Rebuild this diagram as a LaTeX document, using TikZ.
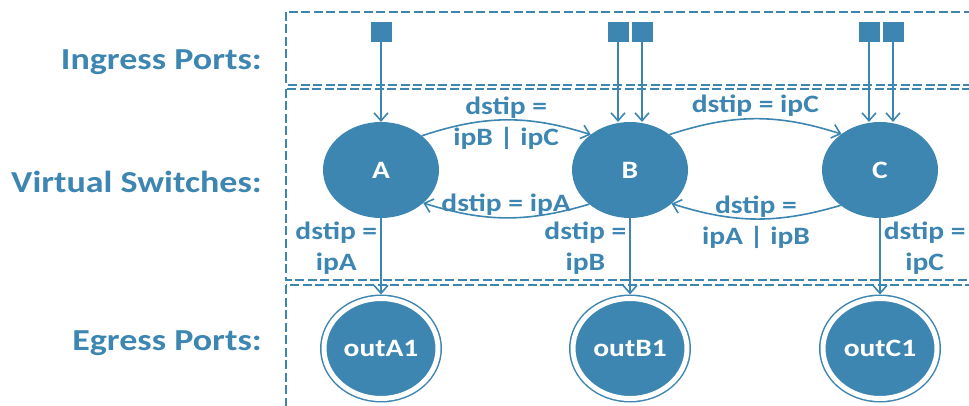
\documentclass[tikz,border=0pt]{standalone}
\usepackage{fontspec}
\setmainfont{Carlito}[FakeStretch=1.18]
\usetikzlibrary{shapes.geometric,arrows.meta}
\definecolor{netblue}{RGB}{62,134,178}
\tikzset{
  rowlabel/.style={anchor=base east, inner sep=0pt, text=netblue,
    font=\fontsize{30.5}{32}\selectfont\bfseries},
  rulelabel/.style={text=netblue, align=center, inner sep=2pt,
    font=\fontsize{25}{31}\selectfont\bfseries},
  zone/.style={draw=netblue, line width=1.3pt, dash pattern=on 9pt off 3.5pt},
  wire/.style={draw=netblue, line width=1.6pt,
    -{Straight Barb[length=8pt,width=14pt]}},
  port/.style={rectangle, fill=netblue, minimum width=21pt, minimum height=20pt,
    inner sep=0pt, outer sep=0pt},
  switch/.style={ellipse, fill=netblue, minimum width=116pt, minimum height=96pt,
    inner sep=0pt, outer sep=0pt, text=white,
    font=\fontsize{25}{30}\selectfont\bfseries},
  egress/.style={ellipse, fill=netblue, draw=netblue, line width=1.5pt,
    double=white, double distance=5pt, minimum width=114pt, minimum height=100pt,
    inner sep=0pt, outer sep=4pt, text=white,
    font=\fontsize{25}{30}\selectfont\bfseries}
}
\begin{document}
\begin{tikzpicture}[x=1pt,y=1pt]
  \useasboundingbox (0,0) rectangle (969,-406);
  \clip (0,0) rectangle (969,-406);

  % dashed zones, running off the right and bottom edges
  \draw[zone] (286,-12) rectangle (1000,-85);
  \draw[zone] (286,-89) rectangle (1000,-280);
  \draw[zone] (286,-285) rectangle (1000,-440);

  % row captions
  \node[rowlabel] (lin) at (262,-70) {Ingress Ports:};
  \node[rowlabel] (lvs) at (262,-193) {Virtual Switches:};
  \node[rowlabel] (leg) at (262,-350) {Egress Ports:};

  % virtual switches
  \node[switch] (A) at (381,-170) {A};
  \node[switch] (B) at (630,-170) {B};
  \node[switch] (C) at (880,-170) {C};

  % egress ports
  \node[egress] (oA) at (381,-348.5) {outA1};
  \node[egress] (oB) at (630,-348.5) {outB1};
  \node[egress] (oC) at (880,-348.5) {outC1};

  % ingress ports
  \node[port] (pA)  at (381,-32) {};
  \node[port] (pB1) at (618,-32) {};
  \node[port] (pB2) at (642,-32) {};
  \node[port] (pC1) at (869,-32) {};
  \node[port] (pC2) at (893,-32) {};

  \draw[wire] (pA.south)  -- (pA.south |- A.north);
  \draw[wire] (pB1.south) -- (pB1.south |- B.north);
  \draw[wire] (pB2.south) -- (pB2.south |- B.north);
  \draw[wire] (pC1.south) -- (pC1.south |- C.north);
  \draw[wire] (pC2.south) -- (pC2.south |- C.north);

  % forwarding between switches
  \draw[wire] (A.40) to[bend left=18]
    node[rulelabel, midway, yshift=-3pt] (lab) {dstip =\\ipB | ipC} (B.138);
  \draw[wire] (B.220) to[bend left=17]
    node[rulelabel, midway, above] (lba) {dstip = ipA} (A.-38);
  \draw[wire] (B.42) to[bend left=18]
    node[rulelabel, midway, above] (lbc) {dstip = ipC} (C.137);
  \draw[wire] (C.222) to[bend left=17]
    node[rulelabel, midway, yshift=-3pt] (lcb) {dstip =\\ipA | ipB} (B.-39);

  % delivery to egress ports
  \draw[wire] (A.south) -- (oA.north)
    node[rulelabel, pos=0.4, anchor=east, inner sep=3pt] (lao) {dstip =\\ipA};
  \draw[wire] (B.south) -- (oB.north)
    node[rulelabel, pos=0.4, anchor=east, inner sep=3pt] (lbo) {dstip =\\ipB};
  \draw[wire] (C.south) -- (oC.north)
    node[rulelabel, pos=0.4, anchor=west, inner sep=3pt] (lco) {dstip =\\ipC};
\end{tikzpicture}
\end{document}
